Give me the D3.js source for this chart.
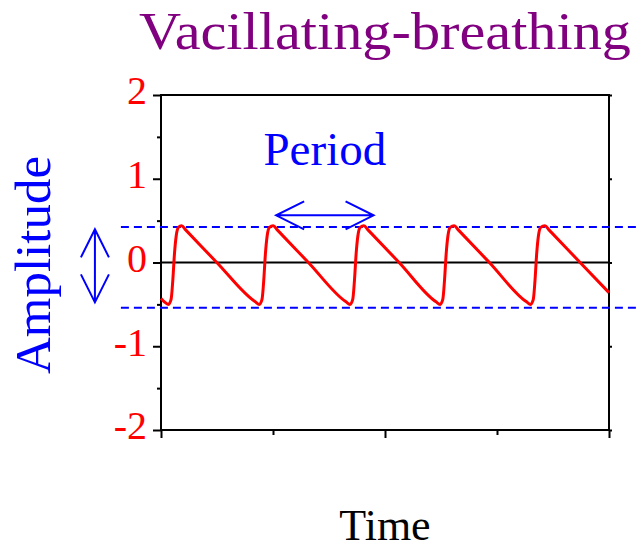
<!DOCTYPE html>
<html>
<head>
<meta charset="utf-8">
<script src="https://cdn.jsdelivr.net/npm/d3@7"></script>
<style>
  body { margin: 0; background: #fff; }
  text { font-family: "Liberation Serif", "Times New Roman", serif; }
</style>
</head>
<body>
<svg class="chart"></svg>
<script>
let width = 636
let height = 549
let margin = { top: 95, right: 27, bottom: 119, left: 161 }

// time (arbitrary units) and amplitude
let time = [0, 0.15, 0.33, 0.45, 0.53, 0.60, 0.68, 0.78, 0.92, 1.10, 2.49, 4.21,
  4.39, 4.51, 4.59, 4.66, 4.74, 4.84, 5.01, 5.19, 6.58, 8.26,
  8.44, 8.56, 8.64, 8.71, 8.79, 8.89, 9.06, 9.24, 10.63, 12.28,
  12.46, 12.58, 12.66, 12.73, 12.81, 12.91, 13.09, 13.27, 14.66, 16.32,
  16.50, 16.62, 16.70, 16.77, 16.85, 16.95, 17.14, 17.32, 18.71, 20]
let amplitude = [-0.43, -0.47, -0.50, -0.44, -0.20, 0.10, 0.32, 0.42, 0.44, 0.39, 0.00, -0.47,
  -0.50, -0.44, -0.20, 0.10, 0.32, 0.42, 0.44, 0.39, 0.00, -0.47,
  -0.50, -0.44, -0.20, 0.10, 0.32, 0.42, 0.44, 0.39, 0.00, -0.47,
  -0.50, -0.44, -0.20, 0.10, 0.32, 0.42, 0.44, 0.39, 0.00, -0.47,
  -0.50, -0.44, -0.20, 0.10, 0.32, 0.42, 0.44, 0.39, 0.00, -0.36]

let yTicks = [-2, -1, 0, 1, 2]
let yMinorTicks = [-1.5, -0.5, 0.5, 1.5]
let xTicks = [0, 10, 20]
let xMinorTicks = [5, 15]

// dashed amplitude bounds and annotation arrows (data units)
let bounds = [0.424, -0.54]
let boundsExtent = [-1.79, 21.2]
let periodArrow = { x0: 5.14, x1: 9.49, y: 0.563 }
let ampArrow = { x: -2.95, y0: 0.396, y1: -0.476 }

let svg = d3.select(".chart")
  .attr("width", width)
  .attr("height", height)

let x = d3.scaleLinear()
  .domain([0, 20])
  .range([margin.left, width - margin.right])

let y = d3.scaleLinear()
  .domain([-2, 2])
  .range([height - margin.bottom, margin.top])

// frame
svg.append("rect")
  .attr("x", x(0))
  .attr("y", y(2))
  .attr("width", x(20) - x(0))
  .attr("height", y(-2) - y(2))
  .attr("fill", "none")
  .attr("stroke", "#000")
  .attr("stroke-width", 2)

// left axis
let yAxis = svg.append("g")
  .attr("transform", `translate(${x(0)},0)`)
  .call(d3.axisLeft(y).tickValues(yTicks).tickSize(8).tickPadding(6).tickFormat(d3.format("d")))
yAxis.select(".domain").remove()
yAxis.selectAll(".tick line").attr("stroke-width", 2)
yAxis.selectAll(".tick text")
  .attr("fill", "red")
  .attr("font-size", 40)
  .attr("font-family", "Liberation Serif, serif")
  .attr("dy", "0.22em")
  .text(d => d < 0 ? "-" + Math.abs(d) : d)

let yMinor = svg.append("g")
  .attr("transform", `translate(${x(0)},0)`)
  .call(d3.axisLeft(y).tickValues(yMinorTicks).tickSize(4).tickFormat(""))
yMinor.select(".domain").remove()
yMinor.selectAll(".tick line").attr("stroke-width", 2)

// right axis small ticks
let yRight = svg.append("g")
  .attr("transform", `translate(${x(20)},0)`)
  .call(d3.axisRight(y).tickValues(yTicks).tickSize(3).tickFormat(""))
yRight.select(".domain").remove()
yRight.selectAll(".tick line").attr("stroke-width", 2)

// bottom axis
let xAxis = svg.append("g")
  .attr("transform", `translate(0,${y(-2)})`)
  .call(d3.axisBottom(x).tickValues(xTicks).tickSize(8).tickFormat(""))
xAxis.select(".domain").remove()
xAxis.selectAll(".tick line").attr("stroke-width", 2)

let xMinor = svg.append("g")
  .attr("transform", `translate(0,${y(-2)})`)
  .call(d3.axisBottom(x).tickValues(xMinorTicks).tickSize(5).tickFormat(""))
xMinor.select(".domain").remove()
xMinor.selectAll(".tick line").attr("stroke-width", 2)

// zero line
svg.append("line")
  .attr("x1", x(0))
  .attr("x2", x(20))
  .attr("y1", y(0))
  .attr("y2", y(0))
  .attr("stroke", "#000")
  .attr("stroke-width", 2)

// dashed bounds
svg.selectAll(".bound")
  .data(bounds)
  .enter()
  .append("line")
  .attr("class", "bound")
  .attr("x1", x(boundsExtent[0]))
  .attr("x2", x(boundsExtent[1]))
  .attr("y1", d => y(d))
  .attr("y2", d => y(d))
  .attr("stroke", "blue")
  .attr("stroke-width", 2)
  .attr("stroke-dasharray", "8,5")

// trace
let line = d3.line()
  .x((d, i) => x(time[i]))
  .y(d => y(d))
  .curve(d3.curveMonotoneX)

svg.append("path")
  .datum(amplitude)
  .attr("d", line)
  .attr("fill", "none")
  .attr("stroke", "red")
  .attr("stroke-width", 3)

// arrows
let headL = 28
let headW = 14
function arrow(x0, y0, x1, y1) {
  let dx = x1 - x0
  let dy = y1 - y0
  let len = Math.sqrt(dx * dx + dy * dy)
  let ux = dx / len
  let uy = dy / len
  let p = d3.path()
  p.moveTo(x0, y0)
  p.lineTo(x1, y1)
  // heads at both ends
  p.moveTo(x0 + ux * headL - uy * headW, y0 + uy * headL + ux * headW)
  p.lineTo(x0, y0)
  p.lineTo(x0 + ux * headL + uy * headW, y0 + uy * headL - ux * headW)
  p.moveTo(x1 - ux * headL - uy * headW, y1 - uy * headL + ux * headW)
  p.lineTo(x1, y1)
  p.lineTo(x1 - ux * headL + uy * headW, y1 - uy * headL - ux * headW)
  svg.append("path")
    .attr("d", p.toString())
    .attr("fill", "none")
    .attr("stroke", "blue")
    .attr("stroke-width", 2)
}
arrow(x(periodArrow.x0), y(periodArrow.y), x(periodArrow.x1), y(periodArrow.y))
arrow(x(ampArrow.x), y(ampArrow.y0), x(ampArrow.x), y(ampArrow.y1))

// texts
svg.append("text")
  .attr("x", 139)
  .attr("y", 49)
  .attr("font-size", 53)
  .attr("fill", "purple")
  .attr("textLength", 492)
  .attr("lengthAdjust", "spacingAndGlyphs")
  .text("Vacillating-breathing")

svg.append("text")
  .attr("x", (x(periodArrow.x0) + x(periodArrow.x1)) / 2)
  .attr("y", 165)
  .attr("text-anchor", "middle")
  .attr("font-size", 47)
  .attr("fill", "blue")
  .text("Period")

svg.append("text")
  .attr("transform", "translate(50,265) rotate(-90)")
  .attr("text-anchor", "middle")
  .attr("font-size", 51)
  .attr("fill", "blue")
  .text("Amplitude")

svg.append("text")
  .attr("x", 385)
  .attr("y", 540)
  .attr("text-anchor", "middle")
  .attr("font-size", 44)
  .attr("fill", "#000")
  .text("Time")
</script>
</body>
</html>
